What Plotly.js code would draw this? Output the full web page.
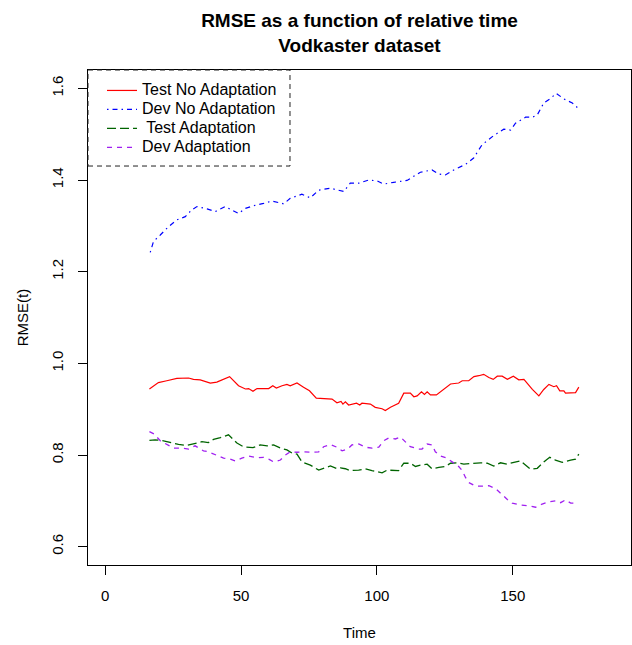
<!DOCTYPE html>
<html>
<head>
<meta charset="utf-8">
<script src="https://cdn.plot.ly/plotly-3.0.1.min.js"></script>
<style>html,body{margin:0;padding:0;background:#fff;}#chart{width:632px;height:645px;}</style>
</head>
<body>
<div id="chart"></div>
<script>
// ---- data ----
var seriesNames = ["Test No Adaptation", "Dev No Adaptation", " Test Adaptation", "Dev Adaptation"];

var timeTestNoAdapt = [16.3,19.6,22.7,26.4,30.7,32.5,35.0,38.7,41.1,43.6,45.8,49.1,51.6,52.8,54.4,55.9,57.7,60.2,61.7,63.0,65.1,66.9,68.1,70.6,73.0,75.2,77.7,81.0,83.5,85.3,86.8,87.5,88.4,89.6,91.5,92.5,93.7,94.5,97.6,99.4,101.9,103.1,105.0,108.0,109.9,112.3,113.6,114.8,116.4,117.5,118.5,119.7,121.9,124.0,127.1,130.1,131.4,133.8,135.7,137.5,139.3,141.2,142.8,144.3,146.1,148.0,150.2,152.2,154.1,157.2,159.6,161.4,163.3,165.1,166.1,167.3,168.8,169.4,173.1,174.3];
var rmseTestNoAdapt = [0.944,0.958,0.962,0.967,0.968,0.965,0.964,0.957,0.959,0.965,0.971,0.951,0.944,0.945,0.939,0.945,0.945,0.945,0.951,0.946,0.951,0.954,0.951,0.957,0.948,0.940,0.924,0.922,0.922,0.914,0.917,0.911,0.916,0.909,0.911,0.913,0.909,0.913,0.911,0.904,0.901,0.897,0.904,0.913,0.935,0.935,0.927,0.929,0.938,0.932,0.938,0.931,0.931,0.940,0.955,0.957,0.962,0.962,0.971,0.973,0.976,0.969,0.965,0.972,0.972,0.965,0.972,0.964,0.965,0.943,0.929,0.943,0.954,0.949,0.951,0.940,0.940,0.935,0.936,0.948];

var timeDevNoAdapt = [16.6,17.8,20.3,23.3,26.4,29.5,31.9,33.8,37.5,40.5,44.2,46.7,49.1,51.6,54.6,58.3,61.4,65.7,68.1,72.4,75.5,78.6,82.9,87.8,90.2,93.3,97.0,100.1,102.5,106.2,111.1,116.0,120.3,122.8,125.2,128.3,132.6,135.6,138.7,143.0,146.7,149.2,151.0,154.7,157.2,159.0,161.4,163.9,166.0,168.8,171.9,174.3];
var rmseDevNoAdapt = [1.242,1.266,1.280,1.298,1.313,1.320,1.335,1.342,1.337,1.331,1.342,1.335,1.327,1.338,1.344,1.349,1.354,1.348,1.360,1.369,1.361,1.378,1.382,1.375,1.393,1.393,1.400,1.398,1.391,1.395,1.399,1.417,1.422,1.413,1.411,1.422,1.434,1.448,1.477,1.497,1.511,1.509,1.524,1.537,1.537,1.542,1.568,1.578,1.589,1.577,1.568,1.555];

var timeTestAdapt = [16.3,18.4,21.5,24.5,27.0,30.1,33.1,35.6,38.0,39.9,42.4,45.4,48.5,50.9,54.4,57.1,59.6,62.0,64.5,66.9,68.8,70.6,72.4,75.5,78.6,80.4,82.9,85.3,86.6,88.4,90.2,93.3,95.8,98.2,101.9,103.8,106.2,108.0,109.9,112.3,114.2,116.0,118.5,120.3,122.8,125.2,127.1,129.5,132.0,135.0,138.1,140.6,143.0,145.5,148.0,150.4,152.9,156.5,159.0,161.4,163.6,165.7,168.2,171.3,173.1,174.3];
var rmseTestAdapt = [0.832,0.833,0.831,0.826,0.823,0.821,0.826,0.829,0.827,0.834,0.838,0.844,0.826,0.818,0.816,0.822,0.820,0.822,0.815,0.811,0.804,0.802,0.785,0.778,0.767,0.771,0.776,0.770,0.772,0.770,0.766,0.767,0.770,0.766,0.761,0.767,0.766,0.766,0.782,0.782,0.775,0.778,0.780,0.770,0.773,0.775,0.782,0.783,0.780,0.782,0.783,0.782,0.776,0.783,0.780,0.784,0.787,0.769,0.771,0.785,0.795,0.789,0.784,0.789,0.791,0.802];

var timeDevAdapt = [16.3,18.0,20.3,23.3,25.2,28.2,30.7,33.1,36.2,38.0,40.5,43.6,46.0,47.9,50.3,52.8,55.9,58.3,60.2,62.0,64.5,66.3,68.1,70.6,73.0,76.1,78.6,80.4,82.9,85.3,87.2,89.2,90.8,93.3,95.8,98.2,100.7,102.5,104.3,106.8,108.7,110.5,112.3,115.4,116.6,118.5,120.3,121.5,123.4,125.8,128.3,130.1,131.4,132.6,133.8,136.3,138.7,141.2,143.6,146.1,148.0,149.8,152.9,155.9,158.4,160.8,163.3,165.7,167.6,169.4,171.3,173.7];
var rmseDevAdapt = [0.851,0.846,0.831,0.822,0.815,0.815,0.813,0.820,0.809,0.807,0.800,0.793,0.791,0.787,0.793,0.798,0.794,0.795,0.791,0.785,0.789,0.800,0.807,0.806,0.807,0.806,0.807,0.818,0.823,0.817,0.809,0.813,0.822,0.824,0.817,0.815,0.817,0.831,0.837,0.835,0.839,0.829,0.818,0.813,0.813,0.824,0.822,0.807,0.798,0.793,0.782,0.775,0.766,0.751,0.740,0.732,0.732,0.733,0.727,0.713,0.703,0.695,0.691,0.689,0.686,0.693,0.698,0.700,0.696,0.702,0.695,0.695];

var xTickVals = [0, 50, 100, 150];
var xTickText = ["0", "50", "100", "150"];
var yTickVals = [0.6, 0.8, 1.0, 1.2, 1.4, 1.6];
var yTickText = ["0.6", "0.8", "1.0", "1.2", "1.4", "1.6"];

// ---- chart ----
var FONT = "Liberation Sans, Arial, Helvetica, sans-serif";
function legendName(s) { return '<span style="font-size:16px">' + s + '</span>'; }

var traces = [
  {x: timeTestNoAdapt, y: rmseTestNoAdapt, name: legendName(seriesNames[0]), type: "scatter", mode: "lines",
   line: {color: "#FF0000", width: 1.2}},
  {x: timeDevNoAdapt, y: rmseDevNoAdapt, name: legendName(seriesNames[1]), type: "scatter", mode: "lines",
   line: {color: "#0000FF", width: 1.2, dash: "1.5px,4px,5px,4px"}},
  {x: timeTestAdapt, y: rmseTestAdapt, name: legendName(seriesNames[2]), type: "scatter", mode: "lines",
   line: {color: "#006400", width: 1.3, dash: "9px,4px"}},
  {x: timeDevAdapt, y: rmseDevAdapt, name: legendName(seriesNames[3]), type: "scatter", mode: "lines",
   line: {color: "#A020F0", width: 1.3, dash: "5px,5px"}}
];

var layout = {
  width: 632, height: 645,
  margin: {l: 88, r: 1, t: 70, b: 80, pad: 0},
  paper_bgcolor: "#ffffff", plot_bgcolor: "#ffffff",
  font: {family: FONT, size: 15, color: "#000000"},
  title: {
    text: "<b>RMSE as a function of relative time</b><br><b>Vodkaster dataset</b>",
    font: {family: FONT, size: 19, color: "#000000"},
    xref: "paper", x: 0.5, xanchor: "center",
    yref: "container", y: 0.958, yanchor: "top"
  },
  xaxis: {
    range: [-6.3, 193.5], autorange: false,
    tickmode: "array", tickvals: xTickVals, ticktext: xTickText,
    ticks: "outside", ticklen: 9, tickwidth: 1, tickcolor: "#000",
    showline: true, mirror: true, linecolor: "#000", linewidth: 1,
    showgrid: false, zeroline: false,
    tickfont: {family: FONT, size: 15, color: "#000"},
    ticklabelstandoff: 8,
    title: {text: "Time", font: {family: FONT, size: 15, color: "#000"}, standoff: 24}
  },
  yaxis: {
    range: [0.560, 1.640], autorange: false,
    tickmode: "array", tickvals: yTickVals, ticktext: yTickText,
    ticks: "outside", ticklen: 9, tickwidth: 1, tickcolor: "#000",
    showline: true, mirror: true, linecolor: "#000", linewidth: 1,
    showgrid: false, zeroline: false, tickangle: -90,
    tickfont: {family: FONT, size: 15, color: "#000"},
    ticklabelstandoff: 9,
    title: {text: "RMSE(t)", font: {family: FONT, size: 15, color: "#000"}, standoff: 16}
  },
  showlegend: true,
  legend: {
    x: 0.0258, xanchor: "left", xref: "paper",
    y: 0.988, yanchor: "top", yref: "paper",
    bgcolor: "rgba(0,0,0,0)", borderwidth: 0,
    font: {family: FONT, size: 12, color: "#000"},
    itemwidth: 30, tracegroupgap: 0
  },
  shapes: [
    {type: "rect", xref: "paper", yref: "paper", x0: 0, x1: 0.372, y0: 0.806, y1: 1,
     line: {color: "#222222", width: 1, dash: "5px,4px"}, fillcolor: "rgba(0,0,0,0)", layer: "above"}
  ]
};

Plotly.newPlot("chart", traces, layout, {displayModeBar: false, staticPlot: true});
</script>
</body>
</html>
